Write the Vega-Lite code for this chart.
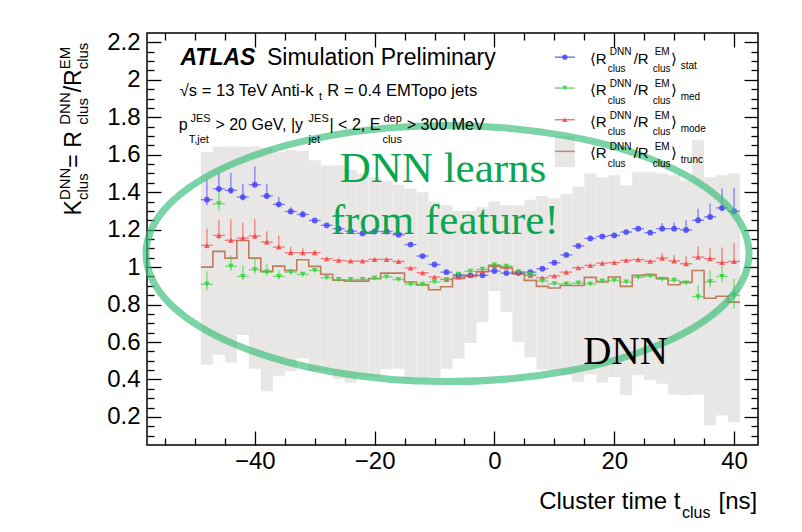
{
  "$schema": "https://vega.github.io/schema/vega-lite/v6.json",
  "width": 611,
  "height": 412,
  "autosize": {"type": "none"},
  "padding": {"left": 147, "top": 33, "right": 44, "bottom": 87},
  "background": "white",
  "config": {"view": {"stroke": "black", "strokeWidth": 1.5}, "font": "Liberation Sans"},
  "resolve": {"axis": {"x": "independent", "y": "independent"}},
  "datasets": {
    "band": [
      {"t0": -49, "t1": -47, "lo": 0.479, "hi": 1.614},
      {"t0": -47, "t1": -45, "lo": 0.532, "hi": 1.644},
      {"t0": -45, "t1": -43, "lo": 0.49, "hi": 1.644},
      {"t0": -43, "t1": -41, "lo": 0.637, "hi": 1.644},
      {"t0": -41, "t1": -39, "lo": 0.457, "hi": 1.644},
      {"t0": -39, "t1": -37, "lo": 0.337, "hi": 1.637},
      {"t0": -37, "t1": -35, "lo": 0.42, "hi": 1.614},
      {"t0": -35, "t1": -33, "lo": 0.444, "hi": 1.625},
      {"t0": -33, "t1": -31, "lo": 0.512, "hi": 1.62},
      {"t0": -31, "t1": -29, "lo": 0.445, "hi": 1.57},
      {"t0": -29, "t1": -27, "lo": 0.445, "hi": 1.543},
      {"t0": -27, "t1": -25, "lo": 0.403, "hi": 1.543},
      {"t0": -25, "t1": -23, "lo": 0.383, "hi": 1.52},
      {"t0": -23, "t1": -21, "lo": 0.413, "hi": 1.5},
      {"t0": -21, "t1": -19, "lo": 0.413, "hi": 1.48},
      {"t0": -19, "t1": -17, "lo": 0.455, "hi": 1.46},
      {"t0": -17, "t1": -15, "lo": 0.457, "hi": 1.44},
      {"t0": -15, "t1": -13, "lo": 0.404, "hi": 1.42},
      {"t0": -13, "t1": -11, "lo": 0.404, "hi": 1.4},
      {"t0": -11, "t1": -9, "lo": 0.41, "hi": 1.35},
      {"t0": -9, "t1": -7, "lo": 0.457, "hi": 1.33},
      {"t0": -7, "t1": -5, "lo": 0.511, "hi": 1.3},
      {"t0": -5, "t1": -3, "lo": 0.594, "hi": 1.3},
      {"t0": -3, "t1": -1, "lo": 0.706, "hi": 1.32},
      {"t0": -1, "t1": 1, "lo": 0.872, "hi": 1.35},
      {"t0": 1, "t1": 3, "lo": 0.76, "hi": 1.33},
      {"t0": 3, "t1": 5, "lo": 0.6, "hi": 1.33},
      {"t0": 5, "t1": 7, "lo": 0.52, "hi": 1.36},
      {"t0": 7, "t1": 9, "lo": 0.452, "hi": 1.38},
      {"t0": 9, "t1": 11, "lo": 0.45, "hi": 1.367},
      {"t0": 11, "t1": 13, "lo": 0.426, "hi": 1.39},
      {"t0": 13, "t1": 15, "lo": 0.386, "hi": 1.43},
      {"t0": 15, "t1": 17, "lo": 0.427, "hi": 1.5},
      {"t0": 17, "t1": 19, "lo": 0.383, "hi": 1.48},
      {"t0": 19, "t1": 21, "lo": 0.413, "hi": 1.49},
      {"t0": 21, "t1": 23, "lo": 0.315, "hi": 1.436},
      {"t0": 23, "t1": 25, "lo": 0.422, "hi": 1.507},
      {"t0": 25, "t1": 27, "lo": 0.399, "hi": 1.507},
      {"t0": 27, "t1": 29, "lo": 0.377, "hi": 1.5},
      {"t0": 29, "t1": 31, "lo": 0.32, "hi": 1.49},
      {"t0": 31, "t1": 33, "lo": 0.315, "hi": 1.463},
      {"t0": 33, "t1": 35, "lo": 0.32, "hi": 1.68},
      {"t0": 35, "t1": 37, "lo": 0.155, "hi": 1.48},
      {"t0": 37, "t1": 39, "lo": 0.208, "hi": 1.49},
      {"t0": 39, "t1": 41, "lo": 0.172, "hi": 1.5}
    ],
    "hist": [
      {"t": -49, "v": 1.0}, {"t": -47, "v": 1.084}, {"t": -45, "v": 1.048}, {"t": -43, "v": 1.142},
      {"t": -41, "v": 1.048}, {"t": -39, "v": 0.977}, {"t": -37, "v": 1.005}, {"t": -35, "v": 0.982},
      {"t": -33, "v": 1.039}, {"t": -31, "v": 1.004}, {"t": -29, "v": 0.962}, {"t": -27, "v": 0.93},
      {"t": -25, "v": 0.925}, {"t": -23, "v": 0.925}, {"t": -21, "v": 0.938}, {"t": -19, "v": 0.968},
      {"t": -17, "v": 0.968}, {"t": -15, "v": 0.92}, {"t": -13, "v": 0.905}, {"t": -11, "v": 0.879},
      {"t": -9, "v": 0.895}, {"t": -7, "v": 0.94}, {"t": -5, "v": 0.95}, {"t": -3, "v": 0.975},
      {"t": -1, "v": 1.005}, {"t": 1, "v": 0.995}, {"t": 3, "v": 0.964}, {"t": 5, "v": 0.929},
      {"t": 7, "v": 0.897}, {"t": 9, "v": 0.888}, {"t": 11, "v": 0.902}, {"t": 13, "v": 0.902},
      {"t": 15, "v": 0.945}, {"t": 17, "v": 0.92}, {"t": 19, "v": 0.947}, {"t": 21, "v": 0.897},
      {"t": 23, "v": 0.956}, {"t": 25, "v": 0.96}, {"t": 27, "v": 0.941}, {"t": 29, "v": 0.906},
      {"t": 31, "v": 0.92}, {"t": 33, "v": 0.982}, {"t": 35, "v": 0.834}, {"t": 37, "v": 0.844},
      {"t": 39, "v": 0.813}, {"t": 41, "v": 0.813}
    ],
    "pts": [
      {"t": -48, "s": "stat", "v": 1.36, "lo": 1.33, "hi": 1.467},
      {"t": -46, "s": "stat", "v": 1.418, "lo": 1.4, "hi": 1.504},
      {"t": -44, "s": "stat", "v": 1.41, "lo": 1.39, "hi": 1.504},
      {"t": -42, "s": "stat", "v": 1.374, "lo": 1.356, "hi": 1.445},
      {"t": -40, "s": "stat", "v": 1.44, "lo": 1.427, "hi": 1.539},
      {"t": -38, "s": "stat", "v": 1.38, "lo": 1.365, "hi": 1.445},
      {"t": -36, "s": "stat", "v": 1.335, "lo": 1.32, "hi": 1.374},
      {"t": -34, "s": "stat", "v": 1.297, "lo": 1.285, "hi": 1.32},
      {"t": -32, "s": "stat", "v": 1.281, "lo": 1.27, "hi": 1.3},
      {"t": -30, "s": "stat", "v": 1.249},
      {"t": -28, "s": "stat", "v": 1.223},
      {"t": -26, "s": "stat", "v": 1.205},
      {"t": -24, "s": "stat", "v": 1.192},
      {"t": -22, "s": "stat", "v": 1.18},
      {"t": -20, "s": "stat", "v": 1.19},
      {"t": -18, "s": "stat", "v": 1.19},
      {"t": -16, "s": "stat", "v": 1.173},
      {"t": -14, "s": "stat", "v": 1.12},
      {"t": -12, "s": "stat", "v": 1.059},
      {"t": -10, "s": "stat", "v": 1.014},
      {"t": -8, "s": "stat", "v": 0.973},
      {"t": -6, "s": "stat", "v": 0.956},
      {"t": -4, "s": "stat", "v": 0.956},
      {"t": -2, "s": "stat", "v": 0.956},
      {"t": 0, "s": "stat", "v": 0.979},
      {"t": 2, "s": "stat", "v": 0.968},
      {"t": 4, "s": "stat", "v": 0.968},
      {"t": 6, "s": "stat", "v": 0.973},
      {"t": 8, "s": "stat", "v": 0.991},
      {"t": 10, "s": "stat", "v": 1.023},
      {"t": 12, "s": "stat", "v": 1.065},
      {"t": 14, "s": "stat", "v": 1.113},
      {"t": 16, "s": "stat", "v": 1.153},
      {"t": 18, "s": "stat", "v": 1.164},
      {"t": 20, "s": "stat", "v": 1.169},
      {"t": 22, "s": "stat", "v": 1.187},
      {"t": 24, "s": "stat", "v": 1.205},
      {"t": 26, "s": "stat", "v": 1.184},
      {"t": 28, "s": "stat", "v": 1.205, "lo": 1.195, "hi": 1.235},
      {"t": 30, "s": "stat", "v": 1.205, "lo": 1.195, "hi": 1.24},
      {"t": 32, "s": "stat", "v": 1.198, "lo": 1.188, "hi": 1.25},
      {"t": 34, "s": "stat", "v": 1.25, "lo": 1.235, "hi": 1.312},
      {"t": 36, "s": "stat", "v": 1.268, "lo": 1.255, "hi": 1.34},
      {"t": 38, "s": "stat", "v": 1.316, "lo": 1.3, "hi": 1.419},
      {"t": 40, "s": "stat", "v": 1.298, "lo": 1.285, "hi": 1.424},
      {"t": -48, "s": "mode", "v": 1.116, "lo": 1.1, "hi": 1.205},
      {"t": -46, "s": "mode", "v": 1.169, "lo": 1.15, "hi": 1.253},
      {"t": -44, "s": "mode", "v": 1.143, "lo": 1.13, "hi": 1.255},
      {"t": -42, "s": "mode", "v": 1.155, "lo": 1.14, "hi": 1.237},
      {"t": -40, "s": "mode", "v": 1.166, "lo": 1.15, "hi": 1.255},
      {"t": -38, "s": "mode", "v": 1.134, "lo": 1.12, "hi": 1.192},
      {"t": -36, "s": "mode", "v": 1.107, "lo": 1.095, "hi": 1.169},
      {"t": -34, "s": "mode", "v": 1.077, "lo": 1.065, "hi": 1.107},
      {"t": -32, "s": "mode", "v": 1.077, "lo": 1.067, "hi": 1.1},
      {"t": -30, "s": "mode", "v": 1.077, "lo": 1.067, "hi": 1.09},
      {"t": -28, "s": "mode", "v": 1.045},
      {"t": -26, "s": "mode", "v": 1.036},
      {"t": -24, "s": "mode", "v": 1.032},
      {"t": -22, "s": "mode", "v": 1.032},
      {"t": -20, "s": "mode", "v": 1.041},
      {"t": -18, "s": "mode", "v": 1.041},
      {"t": -16, "s": "mode", "v": 1.03},
      {"t": -14, "s": "mode", "v": 0.995},
      {"t": -12, "s": "mode", "v": 0.97},
      {"t": -10, "s": "mode", "v": 0.947},
      {"t": -8, "s": "mode", "v": 0.934},
      {"t": -6, "s": "mode", "v": 0.947},
      {"t": -4, "s": "mode", "v": 0.956},
      {"t": -2, "s": "mode", "v": 0.977},
      {"t": 0, "s": "mode", "v": 1.009},
      {"t": 2, "s": "mode", "v": 1.0},
      {"t": 4, "s": "mode", "v": 0.973},
      {"t": 6, "s": "mode", "v": 0.955},
      {"t": 8, "s": "mode", "v": 0.943},
      {"t": 10, "s": "mode", "v": 0.953},
      {"t": 12, "s": "mode", "v": 0.973},
      {"t": 14, "s": "mode", "v": 0.997},
      {"t": 16, "s": "mode", "v": 1.009},
      {"t": 18, "s": "mode", "v": 1.021},
      {"t": 20, "s": "mode", "v": 1.024},
      {"t": 22, "s": "mode", "v": 1.036},
      {"t": 24, "s": "mode", "v": 1.04},
      {"t": 26, "s": "mode", "v": 1.031},
      {"t": 28, "s": "mode", "v": 1.048, "lo": 1.04, "hi": 1.075},
      {"t": 30, "s": "mode", "v": 1.033, "lo": 1.025, "hi": 1.065},
      {"t": 32, "s": "mode", "v": 1.018, "lo": 1.01, "hi": 1.058},
      {"t": 34, "s": "mode", "v": 1.053, "lo": 1.04, "hi": 1.11},
      {"t": 36, "s": "mode", "v": 1.045, "lo": 1.035, "hi": 1.1},
      {"t": 38, "s": "mode", "v": 1.025, "lo": 1.015, "hi": 1.105},
      {"t": 40, "s": "mode", "v": 1.03, "lo": 1.02, "hi": 1.128},
      {"t": -48, "s": "med", "v": 0.908, "lo": 0.876, "hi": 0.977},
      {"t": -46, "s": "med", "v": 1.338, "lo": 1.3, "hi": 1.41},
      {"t": -44, "s": "med", "v": 1.004, "lo": 0.98, "hi": 1.062},
      {"t": -42, "s": "med", "v": 0.95, "lo": 0.93, "hi": 1.01},
      {"t": -40, "s": "med", "v": 0.986, "lo": 0.966, "hi": 1.053},
      {"t": -38, "s": "med", "v": 0.973, "lo": 0.955, "hi": 1.018},
      {"t": -36, "s": "med", "v": 0.95, "lo": 0.935, "hi": 0.982},
      {"t": -34, "s": "med", "v": 0.973, "lo": 0.96, "hi": 0.99},
      {"t": -32, "s": "med", "v": 0.961},
      {"t": -30, "s": "med", "v": 0.982},
      {"t": -28, "s": "med", "v": 0.943},
      {"t": -26, "s": "med", "v": 0.933},
      {"t": -24, "s": "med", "v": 0.933},
      {"t": -22, "s": "med", "v": 0.934},
      {"t": -20, "s": "med", "v": 0.941},
      {"t": -18, "s": "med", "v": 0.947},
      {"t": -16, "s": "med", "v": 0.934},
      {"t": -14, "s": "med", "v": 0.908},
      {"t": -12, "s": "med", "v": 0.908},
      {"t": -10, "s": "med", "v": 0.92},
      {"t": -8, "s": "med", "v": 0.934},
      {"t": -6, "s": "med", "v": 0.961},
      {"t": -4, "s": "med", "v": 0.977},
      {"t": -2, "s": "med", "v": 0.988},
      {"t": 0, "s": "med", "v": 1.012},
      {"t": 2, "s": "med", "v": 1.005},
      {"t": 4, "s": "med", "v": 0.975},
      {"t": 6, "s": "med", "v": 0.96},
      {"t": 8, "s": "med", "v": 0.925},
      {"t": 10, "s": "med", "v": 0.911},
      {"t": 12, "s": "med", "v": 0.91},
      {"t": 14, "s": "med", "v": 0.915},
      {"t": 16, "s": "med", "v": 0.91},
      {"t": 18, "s": "med", "v": 0.925},
      {"t": 20, "s": "med", "v": 0.929},
      {"t": 22, "s": "med", "v": 0.92},
      {"t": 24, "s": "med", "v": 0.945},
      {"t": 26, "s": "med", "v": 0.952},
      {"t": 28, "s": "med", "v": 0.935},
      {"t": 30, "s": "med", "v": 0.929},
      {"t": 32, "s": "med", "v": 0.915},
      {"t": 34, "s": "med", "v": 0.842, "lo": 0.822, "hi": 0.902},
      {"t": 36, "s": "med", "v": 0.922, "lo": 0.893, "hi": 0.982},
      {"t": 38, "s": "med", "v": 0.95, "lo": 0.92, "hi": 1.009},
      {"t": 40, "s": "med", "v": 0.849, "lo": 0.778, "hi": 0.938}
    ],
    "legPts": [
      {"t": 11.75, "v": 2.121, "s": "stat"},
      {"t": 11.75, "v": 1.956, "s": "med"},
      {"t": 11.75, "v": 1.787, "s": "mode"},
      {"t": 11.75, "v": 1.618, "s": "trunc"}
    ],
    "legBox": [{"t0": 10.08, "t1": 13.42, "lo": 1.534, "hi": 1.698}],
    "ell": [{"t": -7.83, "v": 1.072}],
    "tAtlas": [{"t": -52.42, "v": 2.081, "txt": "ATLAS"}],
    "tHead": [{"t": -37.97, "v": 2.081, "txt": "Simulation Preliminary"}],
    "tMid2": [
      {"t": -52.53, "v": 1.911, "txt": "√s = 13 TeV Anti-k"},
      {"t": -27.9, "v": 1.911, "txt": "R = 0.4 EMTopo jets"}
    ],
    "tMid": [
      {"t": -52.7, "v": 1.73, "txt": "p"},
      {"t": -46.58, "v": 1.73, "txt": "> 20 GeV, |y"},
      {"t": -27.53, "v": 1.73, "txt": "| < 2, E"},
      {"t": -14.63, "v": 1.73, "txt": "> 300 MeV"}
    ],
    "tMidS": [
      {"t": -29.3, "v": 1.89, "txt": "t"},
      {"t": -50.75, "v": 1.774, "txt": "JES"},
      {"t": -51.03, "v": 1.662, "txt": "T,jet"},
      {"t": -31.03, "v": 1.774, "txt": "JES"},
      {"t": -31.03, "v": 1.662, "txt": "jet"},
      {"t": -18.53, "v": 1.774, "txt": "dep"},
      {"t": -18.7, "v": 1.662, "txt": "clus"}
    ],
    "tLegBig": [
      {"t": 15.92, "v": 2.086, "txt": "⟨R"}, {"t": 23.25, "v": 2.086, "txt": "/R"}, {"t": 29.45, "v": 2.086, "txt": "⟩"},
      {"t": 15.92, "v": 1.917, "txt": "⟨R"}, {"t": 23.25, "v": 1.917, "txt": "/R"}, {"t": 29.45, "v": 1.917, "txt": "⟩"},
      {"t": 15.92, "v": 1.748, "txt": "⟨R"}, {"t": 23.25, "v": 1.748, "txt": "/R"}, {"t": 29.45, "v": 1.748, "txt": "⟩"},
      {"t": 15.92, "v": 1.582, "txt": "⟨R"}, {"t": 23.25, "v": 1.582, "txt": "/R"}, {"t": 29.45, "v": 1.582, "txt": "⟩"}
    ],
    "tLegSmall": [
      {"t": 19.25, "v": 2.13, "txt": "DNN"}, {"t": 18.92, "v": 2.041, "txt": "clus"}, {"t": 26.75, "v": 2.13, "txt": "EM"}, {"t": 26.42, "v": 2.041, "txt": "clus"}, {"t": 31.1, "v": 2.059, "txt": "stat"},
      {"t": 19.25, "v": 1.961, "txt": "DNN"}, {"t": 18.92, "v": 1.872, "txt": "clus"}, {"t": 26.75, "v": 1.961, "txt": "EM"}, {"t": 26.42, "v": 1.872, "txt": "clus"}, {"t": 31.1, "v": 1.89, "txt": "med"},
      {"t": 19.25, "v": 1.792, "txt": "DNN"}, {"t": 18.92, "v": 1.703, "txt": "clus"}, {"t": 26.75, "v": 1.792, "txt": "EM"}, {"t": 26.42, "v": 1.703, "txt": "clus"}, {"t": 31.1, "v": 1.721, "txt": "mode"},
      {"t": 19.25, "v": 1.626, "txt": "DNN"}, {"t": 18.92, "v": 1.537, "txt": "clus"}, {"t": 26.75, "v": 1.626, "txt": "EM"}, {"t": 26.42, "v": 1.537, "txt": "clus"}, {"t": 31.1, "v": 1.555, "txt": "trunc"}
    ],
    "tGreen": [
      {"t": -8.58, "v": 1.454, "txt": "DNN learns"},
      {"t": -8.3, "v": 1.178, "txt": "from feature!"}
    ],
    "tDNN": [{"t": 21.9, "v": 0.484, "txt": "DNN"}],
    "tXTitle": [
      {"t": 7.47, "v": -0.29, "txt": "Cluster time t"}
    ],
    "tXTitleR": [
      {"t": 37.4, "v": -0.29, "txt": "[ns]"}
    ],
    "tXTitleS": [{"t": 31.3, "v": -0.338, "txt": "clus"}],
    "tYBig": [
      {"t": -69.08, "v": 1.276, "txt": "K"},
      {"t": -69.08, "v": 1.531, "txt": " = R"},
      {"t": -69.08, "v": 1.933, "txt": "/R"}
    ],
    "tYSup": [
      {"t": -70.9, "v": 1.358, "txt": "DNN"},
      {"t": -70.9, "v": 1.76, "txt": "DNN"},
      {"t": -70.9, "v": 2.056, "txt": "EM"}
    ],
    "tYSub": [
      {"t": -67.9, "v": 1.358, "txt": "clus"},
      {"t": -67.9, "v": 1.76, "txt": "clus"},
      {"t": -67.9, "v": 2.056, "txt": "clus"}
    ]
  },
  "layer": [
    {
      "data": {"name": "band"},
      "mark": {"type": "rect", "color": "#e9e6e6"},
      "encoding": {
        "x": {"field": "t0", "type": "quantitative", "scale": {"domain": [-58, 44], "nice": false, "zero": false},
          "axis": {"orient": "bottom", "title": null, "domain": false, "grid": false,
            "values": [-55, -50, -45, -40, -35, -30, -25, -20, -15, -10, -5, 0, 5, 10, 15, 20, 25, 30, 35, 40],
            "labelExpr": "datum.value % 20 === 0 ? datum.label : ''",
            "tickSize": {"condition": {"test": "datum.value % 20 === 0", "value": -14}, "value": -7},
            "labelPadding": 18, "labelFontSize": 24, "labelColor": "black", "tickColor": "black", "tickWidth": 1.3, "labelFont": "Liberation Sans"}},
        "x2": {"field": "t1"},
        "y": {"field": "lo", "type": "quantitative", "scale": {"domain": [0.05, 2.25], "nice": false, "zero": false},
          "axis": {"orient": "left", "title": null, "domain": false, "grid": false,
            "values": [0.1, 0.15, 0.2, 0.25, 0.3, 0.35, 0.4, 0.45, 0.5, 0.55, 0.6, 0.65, 0.7, 0.75, 0.8, 0.85, 0.9, 0.95, 1, 1.05, 1.1, 1.15, 1.2, 1.25, 1.3, 1.35, 1.4, 1.45, 1.5, 1.55, 1.6, 1.65, 1.7, 1.75, 1.8, 1.85, 1.9, 1.95, 2, 2.05, 2.1, 2.15, 2.2],
            "format": "~g",
            "labelExpr": "abs(datum.value*5 - round(datum.value*5)) < 0.001 ? datum.label : ''",
            "tickSize": {"condition": {"test": "abs(datum.value*5 - round(datum.value*5)) < 0.001", "value": -14}, "value": -7},
            "labelPadding": 21, "labelFontSize": 24, "labelColor": "black", "tickColor": "black", "tickWidth": 1.3, "labelFont": "Liberation Sans"}},
        "y2": {"field": "hi"}
      }
    },
    {
      "data": {"name": "band"},
      "mark": {"type": "point", "opacity": 0},
      "encoding": {
        "x": {"field": "t0", "type": "quantitative", "scale": {"domain": [-58, 44], "nice": false, "zero": false},
          "axis": {"orient": "top", "title": null, "domain": false, "grid": false, "labels": false,
            "values": [-55, -50, -45, -40, -35, -30, -25, -20, -15, -10, -5, 0, 5, 10, 15, 20, 25, 30, 35, 40],
            "tickSize": {"condition": {"test": "datum.value % 20 === 0", "value": -14}, "value": -7},
            "tickColor": "black", "tickWidth": 1.3}},
        "y": {"field": "lo", "type": "quantitative", "scale": {"domain": [0.05, 2.25], "nice": false, "zero": false},
          "axis": {"orient": "right", "title": null, "domain": false, "grid": false, "labels": false,
            "values": [0.1, 0.15, 0.2, 0.25, 0.3, 0.35, 0.4, 0.45, 0.5, 0.55, 0.6, 0.65, 0.7, 0.75, 0.8, 0.85, 0.9, 0.95, 1, 1.05, 1.1, 1.15, 1.2, 1.25, 1.3, 1.35, 1.4, 1.45, 1.5, 1.55, 1.6, 1.65, 1.7, 1.75, 1.8, 1.85, 1.9, 1.95, 2, 2.05, 2.1, 2.15, 2.2],
            "tickSize": {"condition": {"test": "abs(datum.value*5 - round(datum.value*5)) < 0.001", "value": -14}, "value": -7},
            "tickColor": "black", "tickWidth": 1.3}}
      }
    },
    {
      "mark": {"type": "rule", "color": "#555555", "strokeDash": [9, 5], "strokeWidth": 1.2},
      "encoding": {"y": {"datum": 1, "type": "quantitative", "scale": {"domain": [0.05, 2.25]}, "axis": null}}
    },
    {
      "data": {"name": "hist"},
      "mark": {"type": "line", "interpolate": "step-after", "color": "#b86a45", "strokeWidth": 1.6, "opacity": 0.85},
      "encoding": {
        "x": {"field": "t", "type": "quantitative", "scale": {"domain": [-58, 44]}, "axis": null},
        "y": {"field": "v", "type": "quantitative", "scale": {"domain": [0.05, 2.25]}, "axis": null}
      }
    },
    {
      "data": {"name": "pts"},
      "transform": [{"filter": "isValid(datum.hi)"}],
      "mark": {"type": "rule", "strokeWidth": 1.3, "opacity": 0.65},
      "encoding": {
        "x": {"field": "t", "type": "quantitative", "scale": {"domain": [-58, 44]}, "axis": null},
        "y": {"field": "lo", "type": "quantitative", "scale": {"domain": [0.05, 2.25]}, "axis": null},
        "y2": {"field": "hi"},
        "color": {"field": "s", "type": "nominal", "legend": null, "scale": {"domain": ["stat", "med", "mode", "trunc"], "range": ["#4646f2", "#3ccf3c", "#f04848", "#b86a45"]}}
      }
    },
    {
      "data": {"name": "pts"},
      "mark": {"type": "tick", "orient": "horizontal", "size": 12, "thickness": 1.4, "opacity": 0.65},
      "encoding": {
        "x": {"field": "t", "type": "quantitative", "scale": {"domain": [-58, 44]}, "axis": null},
        "y": {"field": "v", "type": "quantitative", "scale": {"domain": [0.05, 2.25]}, "axis": null},
        "color": {"field": "s", "type": "nominal", "legend": null, "scale": {"domain": ["stat", "med", "mode", "trunc"], "range": ["#4646f2", "#3ccf3c", "#f04848", "#b86a45"]}}
      }
    },
    {
      "data": {"name": "pts"},
      "mark": {"type": "point", "filled": true, "size": 34, "opacity": 0.85},
      "encoding": {
        "x": {"field": "t", "type": "quantitative", "scale": {"domain": [-58, 44]}, "axis": null},
        "y": {"field": "v", "type": "quantitative", "scale": {"domain": [0.05, 2.25]}, "axis": null},
        "color": {"field": "s", "type": "nominal", "legend": null, "scale": {"domain": ["stat", "med", "mode", "trunc"], "range": ["#4646f2", "#3ccf3c", "#f04848", "#b86a45"]}},
        "shape": {"field": "s", "type": "nominal", "legend": null, "scale": {"domain": ["stat", "med", "mode"], "range": ["circle", "triangle-down", "triangle-up"]}}
      }
    },
    {
      "data": {"name": "legBox"},
      "mark": {"type": "rect", "color": "#e9e6e6"},
      "encoding": {
        "x": {"field": "t0", "type": "quantitative", "scale": {"domain": [-58, 44]}, "axis": null},
        "x2": {"field": "t1"},
        "y": {"field": "lo", "type": "quantitative", "scale": {"domain": [0.05, 2.25]}, "axis": null},
        "y2": {"field": "hi"}
      }
    },
    {
      "data": {"name": "legPts"},
      "mark": {"type": "tick", "orient": "horizontal", "size": 20, "thickness": 1.5, "opacity": 0.75},
      "encoding": {
        "x": {"field": "t", "type": "quantitative", "scale": {"domain": [-58, 44]}, "axis": null},
        "y": {"field": "v", "type": "quantitative", "scale": {"domain": [0.05, 2.25]}, "axis": null},
        "color": {"field": "s", "type": "nominal", "legend": null, "scale": {"domain": ["stat", "med", "mode", "trunc"], "range": ["#4646f2", "#3ccf3c", "#f04848", "#b86a45"]}}
      }
    },
    {
      "data": {"name": "legPts"},
      "transform": [{"filter": "datum.s !== 'trunc'"}],
      "mark": {"type": "point", "filled": true, "size": 28, "opacity": 0.85},
      "encoding": {
        "x": {"field": "t", "type": "quantitative", "scale": {"domain": [-58, 44]}, "axis": null},
        "y": {"field": "v", "type": "quantitative", "scale": {"domain": [0.05, 2.25]}, "axis": null},
        "color": {"field": "s", "type": "nominal", "legend": null, "scale": {"domain": ["stat", "med", "mode", "trunc"], "range": ["#4646f2", "#3ccf3c", "#f04848", "#b86a45"]}},
        "shape": {"field": "s", "type": "nominal", "legend": null, "scale": {"domain": ["stat", "med", "mode"], "range": ["circle", "triangle-down", "triangle-up"]}}
      }
    },
    {
      "data": {"name": "ell"},
      "mark": {"type": "point", "shape": "M -1 0 A 1 0.4245 0 1 0 1 0 A 1 0.4245 0 1 0 -1 0", "size": 363609, "filled": false, "stroke": "#3dbf7a", "strokeWidth": 7, "strokeOpacity": 0.68, "opacity": 1},
      "encoding": {
        "x": {"field": "t", "type": "quantitative", "scale": {"domain": [-58, 44]}, "axis": null},
        "y": {"field": "v", "type": "quantitative", "scale": {"domain": [0.05, 2.25]}, "axis": null}
      }
    },
    {
      "data": {"name": "tAtlas"},
      "mark": {"type": "text", "align": "left", "baseline": "alphabetic", "fontSize": 23, "fontWeight": "bold", "fontStyle": "italic", "color": "black"},
      "encoding": {
        "x": {"field": "t", "type": "quantitative", "scale": {"domain": [-58, 44]}, "axis": null},
        "y": {"field": "v", "type": "quantitative", "scale": {"domain": [0.05, 2.25]}, "axis": null},
        "text": {"field": "txt"}
      }
    },
    {
      "data": {"name": "tHead"},
      "mark": {"type": "text", "align": "left", "baseline": "alphabetic", "fontSize": 23, "color": "black"},
      "encoding": {
        "x": {"field": "t", "type": "quantitative", "scale": {"domain": [-58, 44]}, "axis": null},
        "y": {"field": "v", "type": "quantitative", "scale": {"domain": [0.05, 2.25]}, "axis": null},
        "text": {"field": "txt"}
      }
    },
    {
      "data": {"name": "tMid2"},
      "mark": {"type": "text", "align": "left", "baseline": "alphabetic", "fontSize": 16.6, "color": "black"},
      "encoding": {
        "x": {"field": "t", "type": "quantitative", "scale": {"domain": [-58, 44]}, "axis": null},
        "y": {"field": "v", "type": "quantitative", "scale": {"domain": [0.05, 2.25]}, "axis": null},
        "text": {"field": "txt"}
      }
    },
    {
      "data": {"name": "tMid"},
      "mark": {"type": "text", "align": "left", "baseline": "alphabetic", "fontSize": 16, "color": "black"},
      "encoding": {
        "x": {"field": "t", "type": "quantitative", "scale": {"domain": [-58, 44]}, "axis": null},
        "y": {"field": "v", "type": "quantitative", "scale": {"domain": [0.05, 2.25]}, "axis": null},
        "text": {"field": "txt"}
      }
    },
    {
      "data": {"name": "tMidS"},
      "mark": {"type": "text", "align": "left", "baseline": "alphabetic", "fontSize": 11, "color": "black"},
      "encoding": {
        "x": {"field": "t", "type": "quantitative", "scale": {"domain": [-58, 44]}, "axis": null},
        "y": {"field": "v", "type": "quantitative", "scale": {"domain": [0.05, 2.25]}, "axis": null},
        "text": {"field": "txt"}
      }
    },
    {
      "data": {"name": "tLegBig"},
      "mark": {"type": "text", "align": "left", "baseline": "alphabetic", "fontSize": 15, "color": "black"},
      "encoding": {
        "x": {"field": "t", "type": "quantitative", "scale": {"domain": [-58, 44]}, "axis": null},
        "y": {"field": "v", "type": "quantitative", "scale": {"domain": [0.05, 2.25]}, "axis": null},
        "text": {"field": "txt"}
      }
    },
    {
      "data": {"name": "tLegSmall"},
      "mark": {"type": "text", "align": "left", "baseline": "alphabetic", "fontSize": 10, "color": "black"},
      "encoding": {
        "x": {"field": "t", "type": "quantitative", "scale": {"domain": [-58, 44]}, "axis": null},
        "y": {"field": "v", "type": "quantitative", "scale": {"domain": [0.05, 2.25]}, "axis": null},
        "text": {"field": "txt"}
      }
    },
    {
      "data": {"name": "tGreen"},
      "mark": {"type": "text", "align": "center", "baseline": "alphabetic", "fontSize": 43, "font": "Liberation Serif", "color": "#0aa64f"},
      "encoding": {
        "x": {"field": "t", "type": "quantitative", "scale": {"domain": [-58, 44]}, "axis": null},
        "y": {"field": "v", "type": "quantitative", "scale": {"domain": [0.05, 2.25]}, "axis": null},
        "text": {"field": "txt"}
      }
    },
    {
      "data": {"name": "tDNN"},
      "mark": {"type": "text", "align": "center", "baseline": "alphabetic", "fontSize": 39, "font": "Liberation Serif", "color": "black"},
      "encoding": {
        "x": {"field": "t", "type": "quantitative", "scale": {"domain": [-58, 44]}, "axis": null},
        "y": {"field": "v", "type": "quantitative", "scale": {"domain": [0.05, 2.25]}, "axis": null},
        "text": {"field": "txt"}
      }
    },
    {
      "data": {"name": "tXTitle"},
      "mark": {"type": "text", "align": "left", "baseline": "alphabetic", "fontSize": 24, "color": "black"},
      "encoding": {
        "x": {"field": "t", "type": "quantitative", "scale": {"domain": [-58, 44]}, "axis": null},
        "y": {"field": "v", "type": "quantitative", "scale": {"domain": [0.05, 2.25]}, "axis": null},
        "text": {"field": "txt"}
      }
    },
    {
      "data": {"name": "tXTitleR"},
      "mark": {"type": "text", "align": "left", "baseline": "alphabetic", "fontSize": 24, "color": "black"},
      "encoding": {
        "x": {"field": "t", "type": "quantitative", "scale": {"domain": [-58, 44]}, "axis": null},
        "y": {"field": "v", "type": "quantitative", "scale": {"domain": [0.05, 2.25]}, "axis": null},
        "text": {"field": "txt"}
      }
    },
    {
      "data": {"name": "tXTitleS"},
      "mark": {"type": "text", "align": "left", "baseline": "alphabetic", "fontSize": 16, "color": "black"},
      "encoding": {
        "x": {"field": "t", "type": "quantitative", "scale": {"domain": [-58, 44]}, "axis": null},
        "y": {"field": "v", "type": "quantitative", "scale": {"domain": [0.05, 2.25]}, "axis": null},
        "text": {"field": "txt"}
      }
    },
    {
      "data": {"name": "tYBig"},
      "mark": {"type": "text", "align": "left", "baseline": "alphabetic", "fontSize": 23, "angle": 270, "color": "black"},
      "encoding": {
        "x": {"field": "t", "type": "quantitative", "scale": {"domain": [-58, 44]}, "axis": null},
        "y": {"field": "v", "type": "quantitative", "scale": {"domain": [0.05, 2.25]}, "axis": null},
        "text": {"field": "txt"}
      }
    },
    {
      "data": {"name": "tYSup"},
      "mark": {"type": "text", "align": "left", "baseline": "alphabetic", "fontSize": 15, "angle": 270, "color": "black"},
      "encoding": {
        "x": {"field": "t", "type": "quantitative", "scale": {"domain": [-58, 44]}, "axis": null},
        "y": {"field": "v", "type": "quantitative", "scale": {"domain": [0.05, 2.25]}, "axis": null},
        "text": {"field": "txt"}
      }
    },
    {
      "data": {"name": "tYSub"},
      "mark": {"type": "text", "align": "left", "baseline": "alphabetic", "fontSize": 15, "angle": 270, "color": "black"},
      "encoding": {
        "x": {"field": "t", "type": "quantitative", "scale": {"domain": [-58, 44]}, "axis": null},
        "y": {"field": "v", "type": "quantitative", "scale": {"domain": [0.05, 2.25]}, "axis": null},
        "text": {"field": "txt"}
      }
    }
  ]
}
